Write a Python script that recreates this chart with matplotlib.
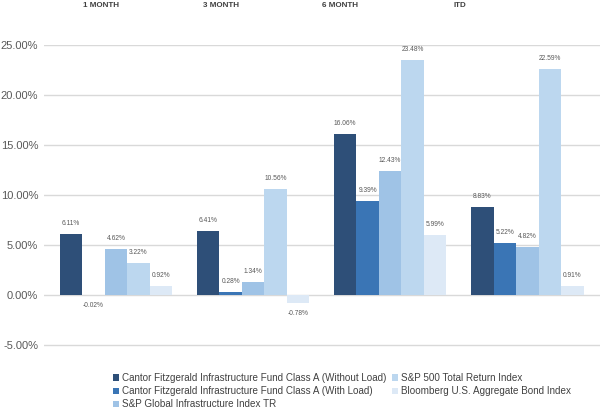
import matplotlib.pyplot as plt
import numpy as np

plt.rcParams['font.family'] = ['Liberation Sans', 'DejaVu Sans']

periods = ["1 MONTH", "3 MONTH", "6 MONTH", "ITD"]
series_names = [
    "Cantor Fitzgerald Infrastructure Fund Class A (Without Load)",
    "Cantor Fitzgerald Infrastructure Fund Class A (With Load)",
    "S&P Global Infrastructure Index TR",
    "S&P 500 Total Return Index",
    "Bloomberg U.S. Aggregate Bond Index",
]
without_load = [6.11, 6.41, 16.06, 8.83]
with_load = [-0.02, 0.28, 9.39, 5.22]
sp_global_infra = [4.62, 1.34, 12.43, 4.82]
sp500 = [3.22, 10.56, 23.48, 22.59]
bloomberg_agg = [0.92, -0.78, 5.99, 0.91]
yticks = [-5, 0, 5, 10, 15, 20, 25]

colors = ["#2e4f78", "#3a75b5", "#9fc3e6", "#bcd7ef", "#dde9f6"]
text_gray = "#595959"

fig = plt.figure(figsize=(6, 4.17), dpi=100)
ax = fig.add_axes([0.073, 0.168, 0.927, 0.724])

x = np.arange(len(periods))
width = 0.164
all_series = [without_load, with_load, sp_global_infra, sp500, bloomberg_agg]
for i, (vals, name, col) in enumerate(zip(all_series, series_names, colors)):
    pos = x + (i - 2) * width
    ax.bar(pos, vals, width, color=col, label=name, zorder=3)
    for px, v in zip(pos, vals):
        if v >= 0:
            ax.annotate(f"{v:.2f}%", (px, v), xytext=(0, 5), textcoords="offset points",
                        ha="center", va="bottom", fontsize=4.8, color=text_gray)
        else:
            ax.annotate(f"{v:.2f}%", (px, v), xytext=(0, -5), textcoords="offset points",
                        ha="center", va="top", fontsize=4.8, color=text_gray)

ax.set_xlim(-0.526, 3.53)
ax.set_ylim(-5.2, 25)
ax.set_yticks(yticks)
ax.set_yticklabels([f"{t:.2f}%" for t in yticks], fontsize=8, color=text_gray)
ax.set_xticks([])
ax.tick_params(axis="y", length=0, pad=4)
ax.grid(axis="y", color="#d9d9d9", linewidth=1.0, zorder=0)
for s in ax.spines.values():
    s.set_visible(False)

# column headers along the top
for lbl, px in zip(periods, [101, 221, 340, 460]):
    fig.text(px / 600, 1 - 5.5 / 417, lbl, ha="center", va="center",
             fontsize=5.8, fontweight="bold", color="#404040")

fig.legend(loc="upper left", bbox_to_anchor=(113 / 600, 1 - 373 / 417), ncol=2,
           frameon=False, fontsize=7.1, labelcolor="#404040",
           handlelength=0.6, handleheight=0.6, handletextpad=0.3,
           columnspacing=0.55, labelspacing=0.32, borderaxespad=0, borderpad=0)

fig.savefig("out.png", dpi=100)
